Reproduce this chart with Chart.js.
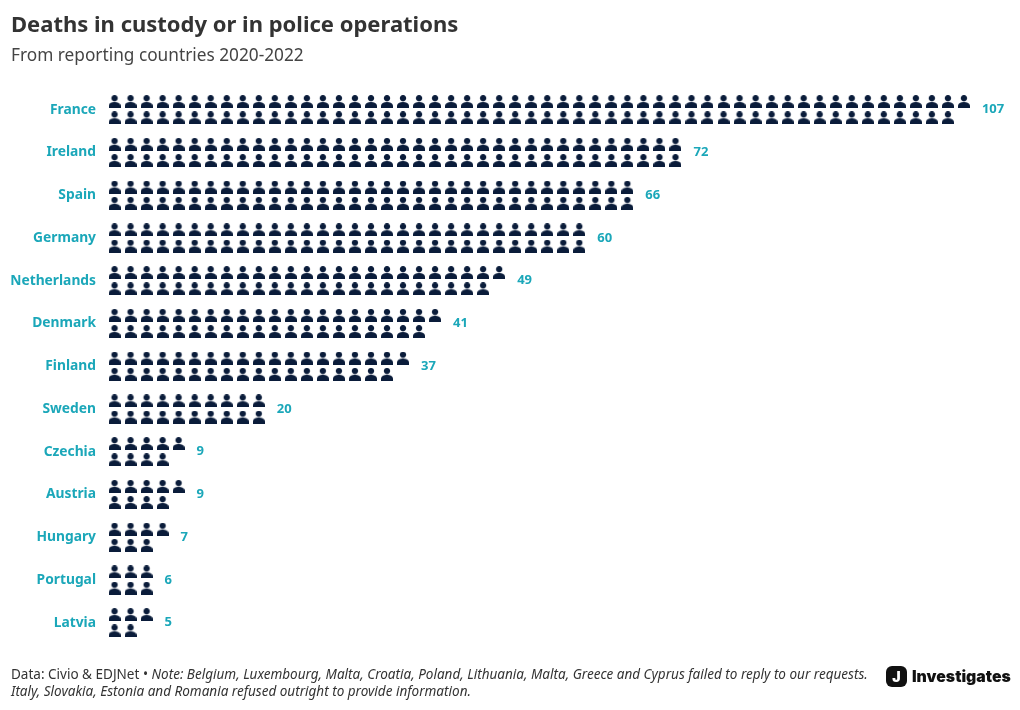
<!DOCTYPE html>
<html>
<head>
<meta charset="utf-8">
<script src="https://cdn.jsdelivr.net/npm/chart.js@4"></script>
<style>
  html, body { margin: 0; padding: 0; background: #fff; }
  #wrap { position: relative; width: 1020px; height: 710px; overflow: hidden; }
  #note {
    position: absolute; left: 11px; top: 666px; width: 870px;
    font: 13.52px/17px "Noto Sans", sans-serif; color: #333;
  }
  #logo {
    position: absolute; left: 886px; top: 666px; height: 21px;
    display: flex; align-items: center;
    font: 900 15.8px Inter, sans-serif; color: #111;
  }
  #logo b {
    width: 21px; height: 21px; margin-right: 5px; border-radius: 6px;
    background: #111; color: #fff; text-align: center;
    font: 900 14px/21px Inter, sans-serif;
  }
</style>
</head>
<body>
<div id="wrap">
  <canvas id="chart" width="1020" height="710"></canvas>
  <div id="note">Data: Civio &amp; EDJNet • <i>Note: Belgium, Luxembourg, Malta, Croatia, Poland, Lithuania, Malta, Greece and Cyprus failed to reply to our requests.<br>Italy, Slovakia, Estonia and Romania refused outright to provide information.</i></div>
  <div id="logo"><b>J</b>Investigates</div>
</div>
<script>
const countries = ['France', 'Ireland', 'Spain', 'Germany', 'Netherlands', 'Denmark', 'Finland', 'Sweden', 'Czechia', 'Austria', 'Hungary', 'Portugal', 'Latvia'];
const deaths = [107, 72, 66, 60, 49, 41, 37, 20, 9, 9, 7, 6, 5];

const teal = '#1ba7b9';
const navy = '#0a1c3a';

// person icon, drawn big and loaded as a 12x13 image so it scales down smooth
const big = document.createElement('canvas');
big.width = 48;
big.height = 52;
const ic = big.getContext('2d');
ic.scale(4, 4);
ic.fillStyle = navy;
ic.beginPath();
ic.arc(6, 3.15, 3.15, 0, Math.PI * 2);
ic.fill();
ic.beginPath();
ic.moveTo(0, 13);
ic.lineTo(0, 11.2);
ic.bezierCurveTo(0, 8.2, 3, 7, 6, 7);
ic.bezierCurveTo(9, 7, 12, 8.2, 12, 11.2);
ic.lineTo(12, 13);
ic.closePath();
ic.fill();

// two rows per country, the top one fills first
const people = deaths.flatMap((n, row) =>
  Array.from({ length: n }, (_, i) => ({
    x: Math.floor(i / 2),
    y: row + (i % 2 ? 0.19 : -0.19)
  }))
);

const valueLabels = {
  id: 'valueLabels',
  afterDatasetsDraw(chart) {
    const { ctx, scales } = chart;
    ctx.save();
    ctx.font = 'bold 13px "Noto Sans", sans-serif';
    ctx.fillStyle = teal;
    ctx.textAlign = 'left';
    ctx.textBaseline = 'middle';
    deaths.forEach((n, row) => {
      const x = scales.x.getPixelForValue(Math.ceil(n / 2) - 1) + 18;
      ctx.fillText(n, x, scales.y.getPixelForValue(row));
    });
    ctx.restore();
  }
};

const icon = new Image(12, 13);
icon.onload = () => {
  new Chart(document.getElementById('chart'), {
    type: 'scatter',
    data: {
      datasets: [{
        data: people,
        pointStyle: icon,
        pointRadius: 6,
        pointHoverRadius: 6
      }]
    },
    options: {
      responsive: false,
      animation: false,
      layout: { padding: { left: 11, right: 8, bottom: 44.55, top: 13 } },
      plugins: {
        legend: { display: false },
        tooltip: { enabled: false },
        title: {
          display: true,
          text: 'Deaths in custody or in police operations',
          align: 'start',
          color: '#333',
          font: { family: '"Noto Sans", sans-serif', size: 22, weight: 'bold' },
          padding: { top: 0, bottom: 6 }
        },
        subtitle: {
          display: true,
          text: 'From reporting countries 2020-2022',
          align: 'start',
          color: '#444',
          font: { family: '"Noto Sans", sans-serif', size: 17.25, weight: 'normal' },
          padding: { top: 0, bottom: 0.8 }
        }
      },
      scales: {
        x: {
          type: 'linear',
          display: false,
          min: -0.5,
          max: 56
        },
        y: {
          type: 'linear',
          reverse: true,
          min: -1,
          max: 13,
          border: { display: false },
          grid: { display: false, drawTicks: false },
          afterFit(scale) { scale.width = 95.5; },
          ticks: {
            stepSize: 1,
            autoSkip: false,
            padding: 10.5,
            color: teal,
            font: { family: '"Noto Sans", sans-serif', size: 13.8, weight: 'bold' },
            callback: v => countries[v] ?? ''
          }
        }
      }
    },
    plugins: [valueLabels]
  });
};
icon.src = big.toDataURL();
</script>
</body>
</html>
